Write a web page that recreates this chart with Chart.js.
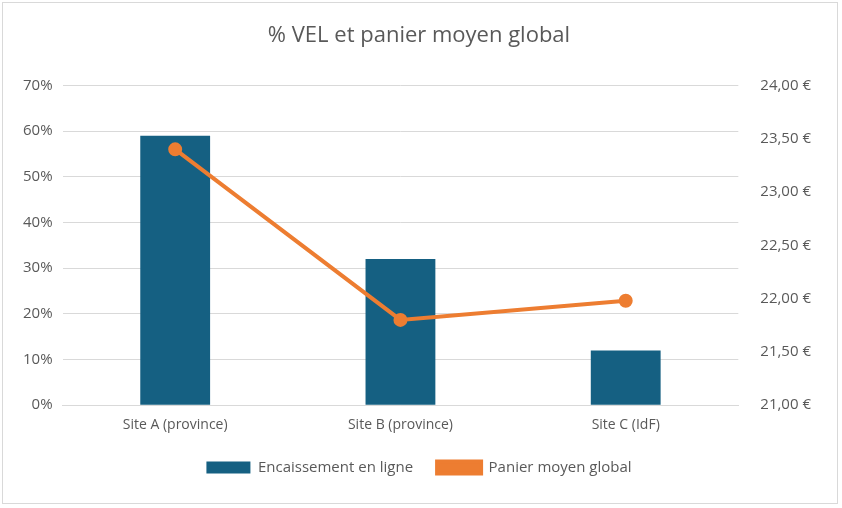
<!DOCTYPE html>
<html><head><meta charset="utf-8">
<script src="https://cdn.jsdelivr.net/npm/chart.js@4"></script>
<style>
body{margin:0;background:#fff;}
#wrap{position:absolute;left:2px;top:2px;width:836px;height:502px;border:1px solid #d9d9d9;box-sizing:border-box;}
</style></head>
<body>
<div id="wrap"><canvas id="c"></canvas></div>
<script>
const categories = ['Site A (province)', 'Site B (province)', 'Site C (IdF)'];
const vel = [0.59, 0.32, 0.12];
const panier = [23.40, 21.80, 21.98];

const font = "'Open Sans', 'Noto Sans', sans-serif";
new Chart(document.getElementById('c'), {
    data: {
        labels: categories,
        datasets: [{
            type: 'line',
            label: 'Panier moyen global',
            data: panier,
            yAxisID: 'y2',
            borderColor: '#ed7d31',
            backgroundColor: '#ed7d31',
            borderWidth: 4,
            pointRadius: 5,
            pointHoverRadius: 5,
            order: 0
        }, {
            type: 'bar',
            label: 'Encaissement en ligne',
            data: vel,
            yAxisID: 'y',
            backgroundColor: '#156082',
            categoryPercentage: 1,
            barPercentage: 0.31,
            order: 1
        }]
    },
    options: {
        responsive: true,
        maintainAspectRatio: false,
        animation: false,
        layout: { padding: { left: 10, right: 12, top: 6, bottom: 18 } },
        plugins: {
            title: { display: true, text: '% VEL et panier moyen global', color: '#595959',
                font: { family: font, size: 22, weight: 'normal' }, padding: { top: 14, bottom: 36 } },
            legend: { position: 'bottom', reverse: true,
                labels: { color: '#595959', font: { family: font, size: 15 }, boxWidth: 44, boxHeight: 12, padding: 24 } }
        },
        scales: {
            x: { grid: { display: false }, border: { color: '#d9d9d9' },
                ticks: { color: '#595959', font: { family: font, size: 14 } } },
            y: { position: 'left', min: 0, max: 0.7,
                ticks: { stepSize: 0.1, color: '#595959', font: { family: font, size: 15 }, padding: 10,
                    callback: v => Math.round(v * 100) + '%' },
                grid: { color: '#d9d9d9', drawTicks: false }, border: { display: false } },
            y2: { position: 'right', min: 21, max: 24,
                ticks: { stepSize: 0.5, color: '#595959', font: { family: font, size: 15 }, padding: 14,
                    callback: v => v.toFixed(2).replace('.', ',') + ' €' },
                grid: { display: false }, border: { display: false } }
        }
    }
});
</script>
</body></html>
